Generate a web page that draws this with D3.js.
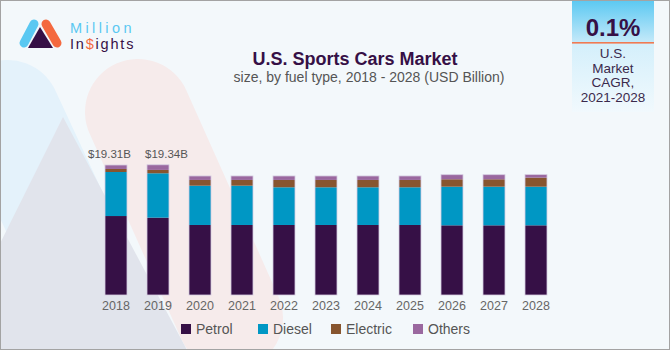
<!DOCTYPE html>
<html>
<head>
<meta charset="utf-8">
<script src="https://cdn.jsdelivr.net/npm/d3@7"></script>
<style>
    body { margin: 0; background: #fff; }
    svg { display: block; }
</style>
</head>
<body>
<div id="chart"></div>
<script>
// Data (USD Billion)
const years = ["2018", "2019", "2020", "2021", "2022", "2023", "2024", "2025", "2026", "2027", "2028"];
const petrol = [11.73, 11.49, 10.40, 10.40, 10.40, 10.40, 10.40, 10.40, 10.35, 10.35, 10.35];
const diesel = [6.54, 6.59, 5.84, 5.84, 5.60, 5.60, 5.60, 5.60, 5.74, 5.74, 5.74];
const electric = [0.45, 0.50, 0.85, 0.85, 1.09, 1.09, 1.09, 1.09, 1.10, 1.10, 1.34];
const others = [0.59, 0.76, 0.59, 0.59, 0.59, 0.59, 0.59, 0.59, 0.68, 0.68, 0.45];
const valueLabels = ["$19.31B", "$19.34B"];
const seriesNames = ["Petrol", "Diesel", "Electric", "Others"];
const seriesColors = ["#361046", "#0097c4", "#87552f", "#9a689f"];

const width = 670, height = 350;
const sans = "'Liberation Sans', Arial, sans-serif";
//labels are nudged apart so they don't collide
const labelShift = [-6.5, 8.5];

const svg = d3.select("#chart").append("svg")
    .attr("width", width)
    .attr("height", height);

//Background and faded logo watermark
svg.append("rect")
    .attr("width", width)
    .attr("height", height)
    .attr("fill", "#f3f8fb");

const bg = svg.append("g");
bg.append("line")
    .attr("x1", 8).attr("y1", 112)
    .attr("x2", 100).attr("y2", 310)
    .attr("stroke", "#e4f2fb")
    .attr("stroke-width", 104)
    .attr("stroke-linecap", "round");
bg.append("line")
    .attr("x1", 138).attr("y1", 112)
    .attr("x2", 230).attr("y2", 318)
    .attr("stroke", "#f6ebeb")
    .attr("stroke-width", 106)
    .attr("stroke-linecap", "round");
bg.append("path")
    .attr("d", "M63,117 L-53,350 L187,350 Z")
    .attr("fill", "#e1e4ec");

//Logo
const logo = svg.append("g");
logo.append("line")
    .attr("x1", 24).attr("y1", 43).attr("x2", 34).attr("y2", 24)
    .attr("stroke", "#5ac8f2").attr("stroke-width", 9).attr("stroke-linecap", "round");
logo.append("line")
    .attr("x1", 46).attr("y1", 24).attr("x2", 57).attr("y2", 43)
    .attr("stroke", "#f4693f").attr("stroke-width", 9).attr("stroke-linecap", "round");
logo.append("path")
    .attr("d", "M40,27 L28,48 L53,48 Z")
    .attr("fill", "#361046");
logo.append("text")
    .attr("x", 70).attr("y", 33)
    .attr("fill", "#5ac8f2")
    .style("font-family", sans)
    .style("font-size", "14.5px")
    .style("letter-spacing", "3.4px")
    .text("Million");
const insights = logo.append("text")
    .attr("x", 70).attr("y", 49.3)
    .attr("fill", "#361046")
    .style("font-family", sans)
    .style("font-size", "14.5px")
    .style("letter-spacing", "1.8px");
insights.append("tspan").text("In");
insights.append("tspan").attr("fill", "#f4693f").text("$");
insights.append("tspan").text("ights");

//CAGR box
const defs = svg.append("defs");
const gTop = defs.append("linearGradient").attr("id", "cagr-top")
    .attr("x1", 0).attr("y1", 0).attr("x2", 0).attr("y2", 1);
gTop.append("stop").attr("offset", "0%").attr("stop-color", "#5ac8f2");
gTop.append("stop").attr("offset", "100%").attr("stop-color", "#c4e9f9");
const gBot = defs.append("linearGradient").attr("id", "cagr-bot")
    .attr("x1", 0).attr("y1", 0).attr("x2", 0).attr("y2", 1);
gBot.append("stop").attr("offset", "0%").attr("stop-color", "#d3effb");
gBot.append("stop").attr("offset", "100%").attr("stop-color", "#f1f9fd");

svg.append("rect")
    .attr("x", 572).attr("y", 0).attr("width", 82).attr("height", 42)
    .attr("fill", "url(#cagr-top)");
svg.append("rect")
    .attr("x", 572).attr("y", 42).attr("width", 82).attr("height", 70)
    .attr("fill", "url(#cagr-bot)");
svg.append("rect")
    .attr("x", 572).attr("y", 42).attr("width", 82).attr("height", 1.6)
    .attr("fill", "#f07a52");
svg.append("text")
    .attr("x", 613).attr("y", 36)
    .attr("text-anchor", "middle")
    .attr("fill", "#361046")
    .style("font-family", sans)
    .style("font-weight", "bold")
    .style("font-size", "24px")
    .text("0.1%");
["U.S.", "Market", "CAGR,", "2021-2028"].forEach(function (t, i) {
    svg.append("text")
        .attr("x", 613).attr("y", 58 + i * 14.5)
        .attr("text-anchor", "middle")
        .attr("fill", "#3b2a4c")
        .style("font-family", sans)
        .style("font-size", "13.5px")
        .text(t);
});

//Titles
svg.append("text")
    .attr("x", 355).attr("y", 65)
    .attr("text-anchor", "middle")
    .attr("fill", "#361046")
    .style("font-family", sans)
    .style("font-weight", "bold")
    .style("font-size", "18px")
    .text("U.S. Sports Cars Market");
svg.append("text")
    .attr("x", 369).attr("y", 82)
    .attr("text-anchor", "middle")
    .attr("fill", "#555")
    .style("font-family", sans)
    .style("font-size", "14px")
    .text("size, by fuel type, 2018 - 2028 (USD Billion)");

//Stacked bars
const rows = years.map(function (y, i) {
    return {year: y, Petrol: petrol[i], Diesel: diesel[i], Electric: electric[i], Others: others[i]};
});
const stacked = d3.stack().keys(seriesNames)(rows);

const x = d3.scaleBand()
    .domain(years)
    .range([95, 557])
    .paddingInner(0.476)
    .paddingOuter(0.238);
const y = d3.scaleLinear()
    .domain([0, 19.31])
    .range([295, 165]);

const plot = svg.append("g");
plot.selectAll(".series")
    .data(stacked)
    .enter()
    .append("g")
    .attr("class", "series")
    .attr("fill", function (d, i) {
        return seriesColors[i];
    })
    .selectAll("rect")
    .data(function (d) {
        return d;
    })
    .enter()
    .append("rect")
    .attr("x", function (d) {
        return x(d.data.year);
    })
    .attr("y", function (d) {
        return y(d[1]);
    })
    .attr("height", function (d) {
        return y(d[0]) - y(d[1]);
    })
    .attr("width", x.bandwidth());

//Light outline round each bar
const topLayer = stacked[stacked.length - 1];
plot.selectAll(".outline")
    .data(topLayer)
    .enter()
    .append("rect")
    .attr("class", "outline")
    .attr("x", function (d) {
        return x(d.data.year);
    })
    .attr("y", function (d) {
        return y(d[1]);
    })
    .attr("height", function (d) {
        return y(0) - y(d[1]);
    })
    .attr("width", x.bandwidth())
    .attr("fill", "none")
    .attr("stroke", "#d6cde2")
    .attr("stroke-width", 0.8);

//Total labels for the first years
plot.selectAll(".value-label")
    .data(topLayer.slice(0, valueLabels.length))
    .enter()
    .append("text")
    .attr("class", "value-label")
    .attr("x", function (d, i) {
        return x(d.data.year) + x.bandwidth() / 2 + labelShift[i];
    })
    .attr("y", function (d) {
        return y(d[1]) - 7;
    })
    .attr("text-anchor", "middle")
    .attr("fill", "#555")
    .style("font-family", sans)
    .style("font-size", "11.5px")
    .text(function (d, i) {
        return valueLabels[i];
    });

//X axis
const xAxis = svg.append("g")
    .attr("transform", "translate(0," + y(0) + ")")
    .call(d3.axisBottom(x).tickSize(0));
xAxis.select(".domain").remove();
xAxis.selectAll("text")
    .attr("y", 15)
    .attr("dy", null)
    .attr("fill", "#666")
    .style("font-family", sans)
    .style("font-size", "12.5px");

//Legend
const legendX = [181, 258, 331, 413];
const legend = svg.append("g");
seriesNames.forEach(function (name, i) {
    legend.append("rect")
        .attr("x", legendX[i]).attr("y", 324)
        .attr("width", 10).attr("height", 10)
        .attr("fill", seriesColors[i]);
    legend.append("text")
        .attr("x", legendX[i] + 15).attr("y", 334)
        .attr("fill", "#555")
        .style("font-family", sans)
        .style("font-size", "14px")
        .text(name);
});

//Border
svg.append("rect")
    .attr("x", 0.5).attr("y", 0.5)
    .attr("width", width - 1).attr("height", height - 1)
    .attr("fill", "none")
    .attr("stroke", "#a3a3a3");
</script>
</body>
</html>
